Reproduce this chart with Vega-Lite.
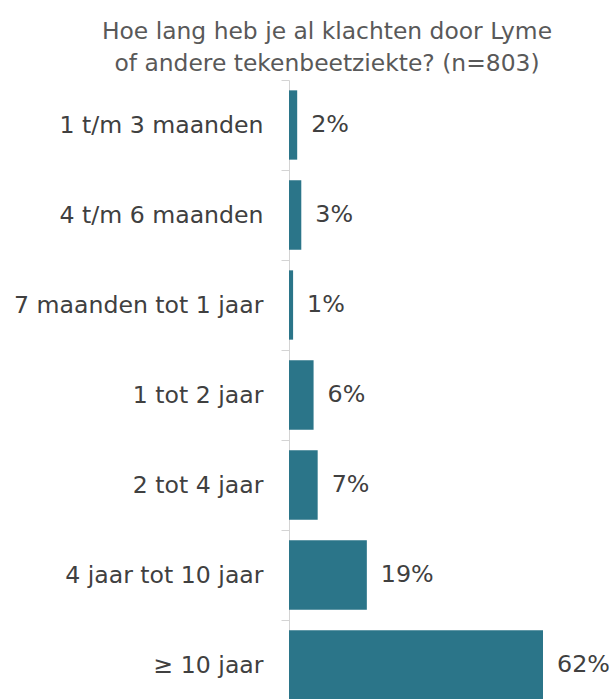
{
  "$schema": "https://vega.github.io/schema/vega-lite/v6.json",
  "width": 254,
  "height": 619,
  "autosize": {"type": "none"},
  "padding": {"left": 289, "top": 80, "right": 70, "bottom": 0},
  "background": "white",
  "config": {"view": {"stroke": null}, "font": "DejaVu Sans"},
  "title": {
    "text": ["Hoe lang heb je al klachten door Lyme", "of andere tekenbeetziekte? (n=803)"],
    "anchor": "start",
    "frame": "group",
    "align": "center",
    "dx": 38,
    "font": "DejaVu Sans",
    "fontSize": 23.4,
    "fontWeight": "normal",
    "color": "#595959",
    "lineHeight": 32,
    "offset": -8
  },
  "data": {
    "values": [
      {"categorie": "1 t/m 3 maanden", "aandeel": 0.02},
      {"categorie": "4 t/m 6 maanden", "aandeel": 0.03},
      {"categorie": "7 maanden tot 1 jaar", "aandeel": 0.01},
      {"categorie": "1 tot 2 jaar", "aandeel": 0.06},
      {"categorie": "2 tot 4 jaar", "aandeel": 0.07},
      {"categorie": "4 jaar tot 10 jaar", "aandeel": 0.19},
      {"categorie": "≥ 10 jaar", "aandeel": 0.62}
    ]
  },
  "encoding": {
    "y": {
      "field": "categorie",
      "type": "nominal",
      "sort": null,
      "scale": {"paddingInner": 0, "paddingOuter": 0, "range": [0, 630]},
      "axis": {
        "title": null,
        "labelFont": "DejaVu Sans",
        "labelFontSize": 23.6,
        "labelColor": "#404040",
        "labelPadding": 18,
        "labelLimit": 400,
        "tickSize": 8,
        "tickColor": "#d4d4d4",
        "domainColor": "#d4d4d4",
        "tickBand": "extent",
        "grid": false
      }
    },
    "x": {
      "field": "aandeel",
      "type": "quantitative",
      "scale": {"domain": [0, 0.62], "nice": false, "zero": true},
      "axis": null
    }
  },
  "layer": [
    {"mark": {"type": "bar", "color": "#2b7589", "height": {"band": 0.77}}},
    {
      "mark": {"type": "text", "align": "left", "baseline": "middle", "dx": 14, "fontSize": 23.8, "color": "#404040", "font": "DejaVu Sans"},
      "encoding": {"text": {"field": "aandeel", "type": "quantitative", "format": ".0%"}}
    }
  ]
}
